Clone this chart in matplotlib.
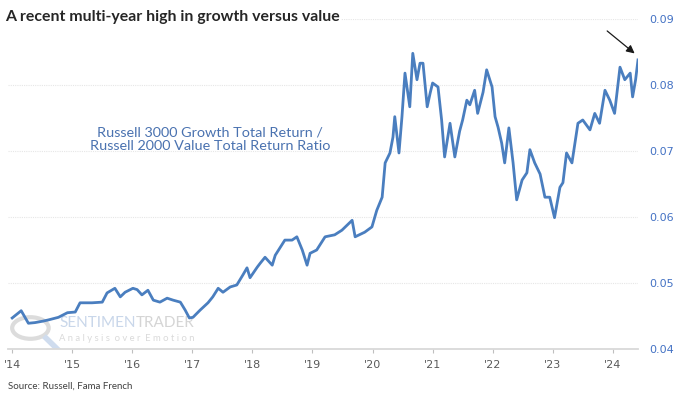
import matplotlib.pyplot as plt
import matplotlib.patches as mpatches
import numpy as np

# ratio values (decimal year, ratio)
years = [2014.00, 2014.15, 2014.27, 2014.38, 2014.50, 2014.60, 2014.77, 2014.92,
         2015.05, 2015.13, 2015.33, 2015.50, 2015.58, 2015.71, 2015.80, 2015.88,
         2016.01, 2016.08, 2016.16, 2016.26, 2016.35, 2016.46, 2016.58, 2016.68,
         2016.80, 2016.88, 2016.95, 2017.01, 2017.13, 2017.26, 2017.34, 2017.43,
         2017.51, 2017.63, 2017.74, 2017.84, 2017.91, 2017.96, 2018.08, 2018.13,
         2018.21, 2018.33, 2018.38, 2018.54, 2018.66, 2018.74, 2018.83, 2018.91,
         2018.96, 2019.07, 2019.21, 2019.37, 2019.49, 2019.66, 2019.71, 2019.87,
         2019.99, 2020.07, 2020.16, 2020.21, 2020.29, 2020.34, 2020.37, 2020.44,
         2020.49, 2020.54, 2020.62, 2020.67, 2020.74, 2020.79, 2020.84, 2020.91,
         2020.96, 2021.00, 2021.09, 2021.15, 2021.20, 2021.29, 2021.37, 2021.45,
         2021.50, 2021.57, 2021.62, 2021.70, 2021.75, 2021.84, 2021.90, 2021.99,
         2022.04, 2022.09, 2022.15, 2022.20, 2022.27, 2022.34, 2022.40, 2022.49,
         2022.57, 2022.62, 2022.70, 2022.79, 2022.87, 2022.95, 2023.03, 2023.12,
         2023.17, 2023.23, 2023.32, 2023.42, 2023.50, 2023.62, 2023.70, 2023.78,
         2023.87, 2023.95, 2024.03, 2024.12, 2024.20, 2024.29, 2024.33, 2024.38,
         2024.42]
ratio = [0.0447, 0.0458, 0.0439, 0.0440, 0.0442, 0.0444, 0.0448, 0.0455,
         0.0456, 0.0470, 0.0470, 0.0471, 0.0485, 0.0492, 0.0479, 0.0486,
         0.0492, 0.0490, 0.0482, 0.0489, 0.0474, 0.0471, 0.0477, 0.0474,
         0.0471, 0.0459, 0.0447, 0.0448, 0.0459, 0.0470, 0.0479, 0.0492,
         0.0486, 0.0494, 0.0497, 0.0512, 0.0523, 0.0508, 0.0524, 0.0530,
         0.0539, 0.0527, 0.0542, 0.0565, 0.0565, 0.0570, 0.0550, 0.0527,
         0.0545, 0.0550, 0.0570, 0.0573, 0.0580, 0.0595, 0.0570, 0.0577,
         0.0585, 0.0610, 0.0630, 0.0682, 0.0697, 0.0721, 0.0752, 0.0697,
         0.0752, 0.0818, 0.0767, 0.0848, 0.0808, 0.0833, 0.0833, 0.0767,
         0.0788, 0.0803, 0.0797, 0.0747, 0.0691, 0.0742, 0.0691, 0.0730,
         0.0747, 0.0777, 0.0770, 0.0792, 0.0757, 0.0789, 0.0823, 0.0797,
         0.0752, 0.0736, 0.0712, 0.0682, 0.0735, 0.0682, 0.0626, 0.0656,
         0.0667, 0.0702, 0.0682, 0.0665, 0.0630, 0.0630, 0.0599, 0.0645,
         0.0652, 0.0697, 0.0682, 0.0742, 0.0747, 0.0732, 0.0757, 0.0742,
         0.0792, 0.0777, 0.0757, 0.0827, 0.0808, 0.0818, 0.0782, 0.0808,
         0.0838]

tick_years = list(range(2014, 2025))
tick_labels = ["'%02d" % (y % 100) for y in tick_years]
y_ticks = [0.04, 0.05, 0.06, 0.07, 0.08, 0.09]

blue = '#4a7ebf'
label_blue = '#4472c4'

fig = plt.figure(figsize=(6.76, 4.0), dpi=100)
ax = fig.add_axes([0.0118, 0.1275, 0.932, 0.825])

ax.plot(years, ratio, color=blue, lw=2.0, zorder=3, solid_joinstyle='round')

ax.set_xlim(2013.93, 2024.42)
ax.set_ylim(0.04, 0.09)

# right y axis, blue labels, no tick marks
ax.yaxis.tick_right()
ax.set_yticks(y_ticks)
ax.set_yticklabels(['%.2f' % v for v in y_ticks])
ax.tick_params(axis='y', length=0, pad=8, labelsize=8, labelcolor=label_blue)
ax.grid(axis='y', color='#e6e6e6', lw=0.8, ls=(0, (1, 1)))

ax.set_xticks(tick_years)
ax.set_xticklabels(tick_labels)
ax.tick_params(axis='x', length=3, color='#bfbfbf', pad=5, labelsize=8, labelcolor='#595959')

for s in ['top', 'left', 'right']:
    ax.spines[s].set_visible(False)
ax.spines['bottom'].set_color('#d9d9d9')
ax.spines['bottom'].set_linewidth(1.3)

# title and source
fig.text(0.007, 0.957, 'A recent multi-year high in growth versus value', fontsize=11.4,
         fontweight='bold', family='Lato', color='#262626',
         va='center', ha='left', bbox=dict(facecolor='white', edgecolor='none', pad=1))
fig.text(0.012, 0.035, 'Source: Russell, Fama French', fontsize=7, family='Lato',
         color='#404040', va='center')

# series description
ax.text(0.311, 0.652, 'Russell 3000 Growth Total Return /\nRussell 2000 Value Total Return Ratio',
        transform=fig.transFigure, fontsize=10.4, family='Lato', color='#4a72b0',
        ha='center', va='center', linespacing=1.2)

# arrow to the latest high
ax.annotate('', xy=(0.942, 0.862), xytext=(0.895, 0.927), xycoords='figure fraction',
            textcoords='figure fraction',
            arrowprops=dict(arrowstyle='-|>', color='#1a1a1a', lw=0.9, mutation_scale=12))

# watermark, behind the line
w1 = ax.text(0.088, 0.192, 'SENTIMEN', transform=fig.transFigure, fontsize=11,
             family='Lato', color='#c9d7ea', va='center', zorder=1)
ax.annotate('TRADER', xy=(1, 0.5), xycoords=w1, va='center', ha='left', fontsize=11,
            family='Lato', color='#d5d5d5', zorder=1)
ax.text(0.088, 0.153, 'A n a l y s i s  o v e r  E m o t i o n', transform=fig.transFigure,
        fontsize=6.8, family='Lato', color='#dadada', va='center', zorder=1)
ring = mpatches.Circle((0.045, 0.18), 0.027, transform=fig.transFigure, fill=False,
                       ec='#dcdcdc', lw=3, zorder=1)
ax.add_artist(ring)
ax.add_line(plt.Line2D([0.068, 0.088], [0.155, 0.122], transform=fig.transFigure,
                       color='#cfdcee', lw=4, zorder=1))

fig.savefig('out.png', dpi=100)
